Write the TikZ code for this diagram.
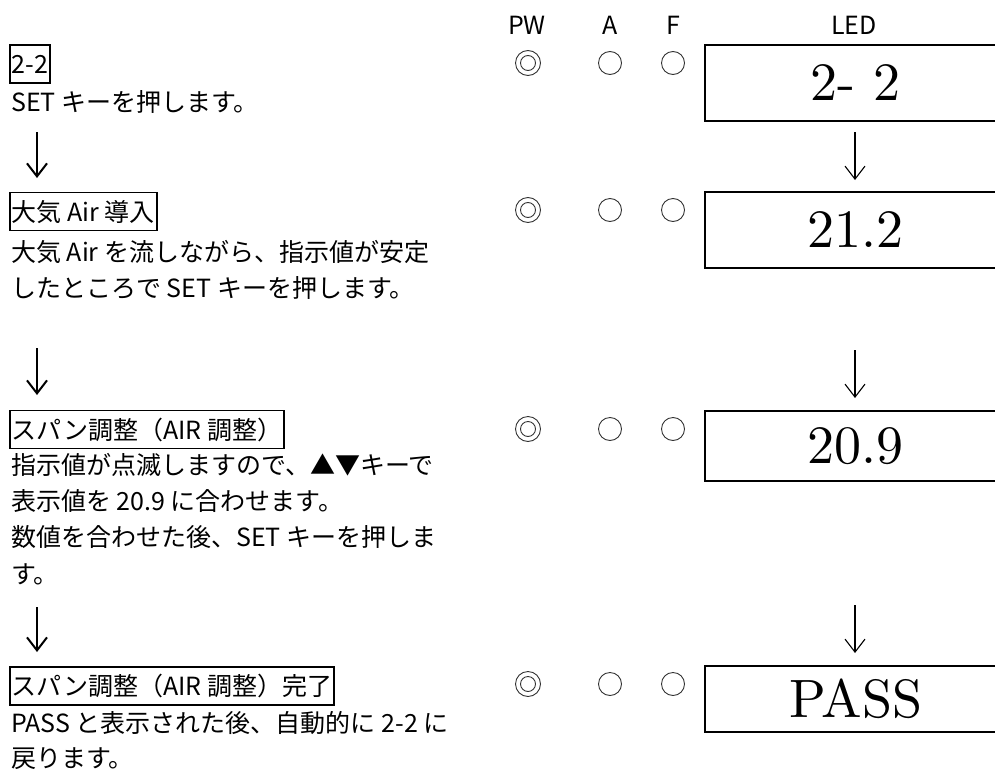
\documentclass[tikz,border=0pt]{standalone}
\usepackage{fontspec}
\newfontfamily\jp{Noto Sans CJK JP}
\newfontfamily\ledfont{lmroman10-regular}[Extension=.otf]
\usetikzlibrary{arrows.meta}
\begin{document}
\begin{tikzpicture}[x=1pt,y=-1pt,
  txt/.style={anchor=west, inner sep=0pt, font=\jp\fontsize{25}{25}\selectfont, text height=21pt, text depth=2pt},
  hdr/.style={inner sep=0pt, font=\jp\fontsize{25}{25}\selectfont, text height=21pt, text depth=2pt},
  ttl/.style={txt, draw, line width=1.6pt, inner xsep=2pt, inner ysep=7.5pt},
  led/.style={draw, line width=1.8pt, anchor=north west, minimum width=302pt, inner sep=0pt, font=\ledfont\fontsize{54}{54}\selectfont},
  lamp/.style={circle, draw=black!80, line width=0.9pt, inner sep=0pt, minimum size=23pt},
  lampi/.style={circle, draw=black!80, line width=0.9pt, inner sep=0pt, minimum size=15pt},
  lampo/.style={circle, draw=black!80, line width=0.9pt, inner sep=0pt, minimum size=25pt},
  larr/.style={line width=2pt, -{Straight Barb[length=13pt,width=20pt,line width=2pt]}},
  rarr/.style={line width=1.1pt, -{Straight Barb[length=13pt,width=20pt,line width=1.1pt]}}]
\useasboundingbox (0,0) rectangle (995,771);
\clip (0,0) rectangle (995,771);
% headers
\node[hdr] (hpw) at (527,25) {PW};
\node[hdr] (ha) at (610,25) {A};
\node[hdr] (hf) at (673,25) {F};
\node[hdr] (hled) at (854,25) {LED};
% row 1
\node[ttl] (t1) at (9,64) {2-2};
\node[txt] (l1a) at (11,102) {SET キーを押します。};
\node[lampo] (pw1) at (528,63) {};
\node[lampi] (pw1i) at (528,63) {};
\node[lamp] (a1) at (610,63) {};
\node[lamp] (f1) at (673,63) {};
\node[led, minimum height=76pt] (led1) at (704,44) {2- 2};
% row 2
\node[ttl] (t2) at (9,211.5) {大気 Air 導入};
\node[txt] (l2a) at (11,252) {大気 Air を流しながら、指示値が安定};
\node[txt] (l2b) at (11,288) {したところで SET キーを押します。};
\node[lampo] (pw2) at (528,210) {};
\node[lampi] (pw2i) at (528,210) {};
\node[lamp] (a2) at (610,210) {};
\node[lamp] (f2) at (673,210) {};
\node[led, minimum height=76pt] (led2) at (704,191) {21.2};
% row 3
\node[ttl] (t3) at (9,429.5) {スパン調整（AIR 調整）};
\node[txt] (l3a) at (11,465) {指示値が点滅しますので、▲▼キーで};
\node[txt] (l3b) at (11,501) {表示値を 20.9 に合わせます。};
\node[txt] (l3c) at (11,537) {数値を合わせた後、SET キーを押しま};
\node[txt] (l3d) at (11,574) {す。};
\node[lampo] (pw3) at (528,429) {};
\node[lampi] (pw3i) at (528,429) {};
\node[lamp] (a3) at (610,429) {};
\node[lamp] (f3) at (673,429) {};
\node[led, minimum height=70pt] (led3) at (704,410) {20.9};
% row 4
\node[ttl] (t4) at (9,686) {スパン調整（AIR 調整）完了};
\node[txt] (l4a) at (11,723) {PASS と表示された後、自動的に 2-2 に};
\node[txt] (l4b) at (11,758) {戻ります。};
\node[lampo] (pw4) at (528,684) {};
\node[lampi] (pw4i) at (528,684) {};
\node[lamp] (a4) at (610,684) {};
\node[lamp] (f4) at (673,684) {};
\node[led, minimum height=66pt] (led4) at (704,665) {PASS};
% left arrows
\coordinate (la1s) at (37,132); \coordinate (la1e) at (37,178);
\coordinate (la2s) at (37,348); \coordinate (la2e) at (37,395);
\coordinate (la3s) at (37,607); \coordinate (la3e) at (37,652);
\draw[larr] (la1s) -- (la1e);
\draw[larr] (la2s) -- (la2e);
\draw[larr] (la3s) -- (la3e);
% right arrows
\coordinate (ra1s) at (855,132); \coordinate (ra1e) at (855,180);
\coordinate (ra2s) at (855,350); \coordinate (ra2e) at (855,398);
\coordinate (ra3s) at (855,605); \coordinate (ra3e) at (855,653);
\draw[rarr] (ra1s) -- (ra1e);
\draw[rarr] (ra2s) -- (ra2e);
\draw[rarr] (ra3s) -- (ra3e);
\end{tikzpicture}
\end{document}
